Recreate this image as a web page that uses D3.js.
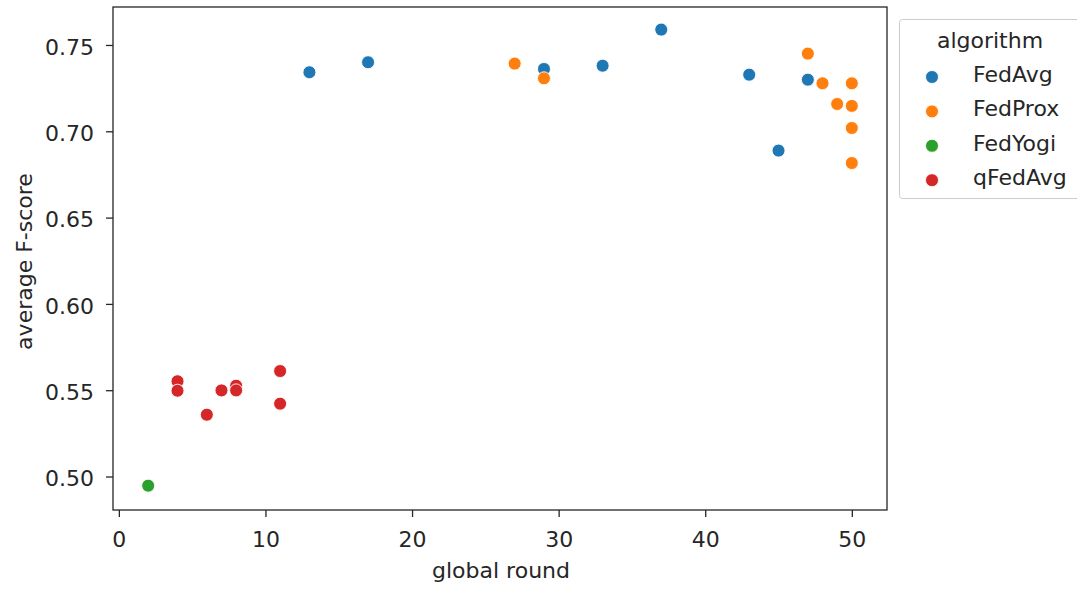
<!DOCTYPE html>
<html><head><meta charset="utf-8">
<script src="https://cdn.jsdelivr.net/npm/d3@7"></script>
<style>body{margin:0;background:#fff}svg text{font-family:"DejaVu Sans",sans-serif;fill:#262626}</style>
</head><body><svg id="c" width="1077" height="589"></svg>
<script>
const algorithms = ["FedAvg","FedProx","FedYogi","qFedAvg"];
const colors = ["#1f77b4","#ff7f0e","#2ca02c","#d62728"];
const fedAvgRounds = [13,17,29,33,37,43,45,47];
const fedAvgScores = [0.7342,0.7400,0.7361,0.7380,0.7589,0.7328,0.6888,0.7299];
const fedProxRounds = [27,29,47,48,49,50,50,50,50];
const fedProxScores = [0.7392,0.7307,0.7450,0.7278,0.7158,0.7278,0.7147,0.7019,0.6816];
const fedYogiRounds = [2];
const fedYogiScores = [0.4947];
const qFedAvgRounds = [4,4,6,7,8,8,11,11];
const qFedAvgScores = [0.5552,0.5497,0.5358,0.5499,0.5526,0.5499,0.5611,0.5422];
const xTicks = [0,10,20,30,40,50];
const yTicks = [0.50,0.55,0.60,0.65,0.70,0.75];

const series = [
  {name:"FedAvg", x:fedAvgRounds, y:fedAvgScores},
  {name:"FedProx", x:fedProxRounds, y:fedProxScores},
  {name:"FedYogi", x:fedYogiRounds, y:fedYogiScores},
  {name:"qFedAvg", x:qFedAvgRounds, y:qFedAvgScores}
];
const points = series.flatMap(s => s.x.map((xv,i)=>({alg:s.name, x:xv, y:s.y[i]})));

const L=113, R=887, T=7, B=510;
const svg = d3.select("#c");
const color = d3.scaleOrdinal().domain(algorithms).range(colors);
const x = d3.scaleLinear().domain([-0.4,52.4]).range([L,R]);
const y = d3.scaleLinear().domain([0.4806,0.772]).range([B,T]);

const fs = "22px";
const xa = svg.append("g").attr("transform",`translate(0,${B})`)
  .call(d3.axisBottom(x).tickValues(xTicks).tickFormat(d3.format("d")).tickSizeOuter(0).tickSize(7).tickPadding(14));
const ya = svg.append("g").attr("transform",`translate(${L},0)`)
  .call(d3.axisLeft(y).tickValues(yTicks).tickFormat(d3.format(".2f")).tickSizeOuter(0).tickSize(7).tickPadding(12));
[xa,ya].forEach(g=>{
  g.select(".domain").remove();
  g.selectAll(".tick line").attr("stroke","#262626").attr("stroke-width",1.3);
  g.selectAll(".tick text").style("font-size",fs).attr("fill","#262626");
});
ya.selectAll(".tick text").attr("dy","0.42em");

svg.append("rect").attr("x",L).attr("y",T).attr("width",R-L).attr("height",B-T)
  .attr("fill","none").attr("stroke","#262626").attr("stroke-width",1.3);

svg.append("g").selectAll("circle").data(points).join("circle")
  .attr("cx",d=>x(d.x)).attr("cy",d=>y(d.y)).attr("r",6.5)
  .attr("fill",d=>color(d.alg)).attr("stroke","#fff").attr("stroke-width",0.9);

svg.append("text").attr("x",501).attr("y",578).attr("text-anchor","middle")
  .style("font-size","22px").text("global round");
svg.append("text").attr("transform",`translate(31.5,${(T+B)/2+3}) rotate(-90)`).attr("text-anchor","middle")
  .style("font-size","22px").text("average F-score");

// legend
const lg = svg.append("g");
lg.append("rect").attr("x",899.5).attr("y",19.5).attr("width",200).attr("height",179).attr("rx",3)
  .attr("fill","#fff").attr("fill-opacity",0.8).attr("stroke","#cccccc").attr("stroke-width",1);
lg.append("text").attr("x",990).attr("y",48).attr("text-anchor","middle").style("font-size","22px").text("algorithm");
algorithms.forEach((a,i)=>{
  const cy = 77 + i*34.4;
  lg.append("circle").attr("cx",932).attr("cy",cy).attr("r",6.5).attr("fill",color(a)).attr("stroke","#fff").attr("stroke-width",0.9);
  lg.append("text").attr("x",973).attr("y",cy+5).style("font-size","22px").text(a);
});
</script></body></html>
